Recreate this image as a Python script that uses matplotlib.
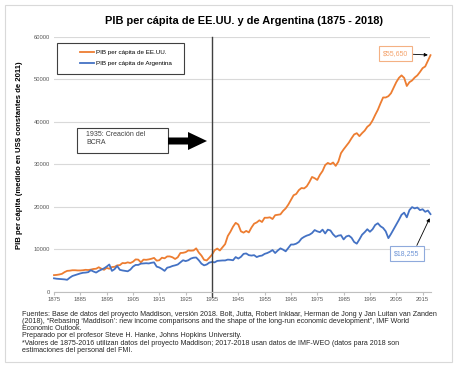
import numpy as np
import matplotlib
matplotlib.use("Agg")
import matplotlib.pyplot as plt
import matplotlib.patches as patches
from matplotlib.transforms import IdentityTransform

plt.rcParams['font.family'] = ['Liberation Sans', 'DejaVu Sans']

years = list(range(1875, 2019))

usa = [3900, 3950, 4050, 4200, 4600, 4900, 4950, 5050, 5050, 5000,
       5000, 5050, 5150, 5100, 5200, 5350, 5400, 5750, 5400, 5150,
       5600, 5400, 5800, 5850, 6200, 6250, 6750, 6700, 6900, 6750,
       7050, 7600, 7550, 6900, 7550, 7500, 7600, 7750, 7950, 7300,
       7400, 8000, 7850, 8300, 8300, 8100, 7700, 8100, 9100, 9150,
       9300, 9700, 9650, 9700, 10200, 9200, 8500, 7500, 7350, 8000,
       8700, 9750, 10150, 9700, 10450, 11200, 13100, 14100, 15300, 16200,
       15800, 14200, 13900, 14300, 13950, 15100, 16000, 16300, 16800, 16400,
       17400, 17400, 17500, 17100, 18000, 18100, 18200, 19000, 19600, 20500,
       21600, 22700, 23000, 23900, 24400, 24300, 24800, 25800, 27000, 26700,
       26300, 27500, 28400, 29800, 30300, 30000, 30400, 29600, 30600, 32600,
       33500, 34300, 35100, 36100, 37000, 37300, 36600, 37300, 37900, 38800,
       39300, 40300, 41600, 42800, 44300, 45700, 45700, 46000, 46700, 48000,
       49300, 50300, 50900, 50300, 48400, 49300, 49700, 50400, 50900, 51700,
       52600, 53000, 54300, 55650]

argentina = [3150, 3050, 3000, 2950, 2900, 2800, 3300, 3700, 3900, 4100,
             4300, 4450, 4500, 4600, 5050, 4750, 4500, 4900, 5200, 5500,
             5900, 6400, 4900, 5300, 6050, 5150, 5000, 4900, 4800, 5200,
             5900, 6300, 6300, 6600, 6650, 6700, 6650, 6800, 6900, 5900,
             5700, 5350, 4900, 5650, 5800, 6050, 6200, 6400, 6900, 7400,
             7200, 7400, 7800, 8000, 8050, 7400, 6600, 6200, 6400, 6850,
             7000, 6900, 7250, 7300, 7350, 7350, 7550, 7500, 7400, 8150,
             7800, 8200, 8900, 9000, 8600, 8500, 8600, 8150, 8400, 8500,
             8900, 9100, 9400, 9800, 9100, 9700, 10200, 9900, 9500, 10300,
             11100, 11100, 11300, 11700, 12500, 12900, 13200, 13400, 13800, 14500,
             14200, 14000, 14600, 13700, 14600, 14400, 13500, 12900, 13200, 13300,
             12300, 13000, 13200, 12700, 11700, 11300, 12300, 13400, 14000, 14700,
             14100, 14700, 15700, 16100, 15400, 15000, 14200, 12600, 13600, 14700,
             15800, 16900, 18100, 18600, 17500, 19200, 19900, 19600, 19800, 19200,
             19400, 18800, 19100, 18255]

x_ticks = list(range(1875, 2016, 10))
y_ticks = [0, 10000, 20000, 30000, 40000, 50000, 60000]

note_lines = [
    'Fuentes: Base de datos del proyecto Maddison, versión 2018. Bolt, Jutta, Robert Inklaar, Herman de Jong y Jan Luitan van Zanden',
    '(2018), “Rebasing ‘Maddison’: new income comparisons and the shape of the long-run economic development”, IMF World',
    'Economic Outlook.',
    'Preparado por el profesor Steve H. Hanke, Johns Hopkins University.',
    '*Valores de 1875-2016 utilizan datos del proyecto Maddison; 2017-2018 usan datos de IMF-WEO (datos para 2018 son',
    'estimaciones del personal del FMI.',
]

orange = '#ED7D31'
blue = '#4472C4'
W, H = 460, 368

fig = plt.figure(figsize=(4.6, 3.68), dpi=100)
ax = fig.add_axes([54 / W, 1 - 291.7 / H, 376.5 / W, 255 / H])

ax.plot(years, usa, color=orange, lw=1.3, label='PIB per cápita de EE.UU.', clip_on=False)
ax.plot(years, argentina, color=blue, lw=1.3, label='PIB per cápita de Argentina', clip_on=False)

ax.set_xlim(1875, 2018)
ax.set_ylim(0, 60000)
ax.set_xticks(x_ticks)
ax.set_yticks(y_ticks)
ax.set_yticklabels([str(v) for v in y_ticks])
ax.grid(axis='y', color='#D9D9D9', lw=0.8)
ax.set_axisbelow(True)
for s in ['top', 'right', 'left']:
    ax.spines[s].set_visible(False)
ax.spines['bottom'].set_color('#BFBFBF')
ax.spines['bottom'].set_linewidth(0.8)
ax.tick_params(axis='y', length=0, labelsize=4.2, labelcolor='#595959', pad=3)
ax.tick_params(axis='x', length=2, color='#BFBFBF', labelsize=4.2, labelcolor='#595959', pad=2)

# 1935 line
ax.axvline(1935, ymin=-0.02, ymax=1, color='#404040', lw=1, clip_on=False)

# legend
ax.legend(loc='center left', bbox_to_anchor=(80 / W, 1 - 57.7 / H),
          bbox_transform=fig.transFigure, frameon=False, fontsize=4.5,
          handlelength=2.3, handletextpad=0.3, labelspacing=0.95,
          borderpad=0, borderaxespad=0)
fig.add_artist(patches.Rectangle((57, H - 74), 127, 31, transform=IdentityTransform(),
                                 fill=False, edgecolor='#404040', lw=0.8))

# BCRA box and arrow
fig.add_artist(patches.Rectangle((77, H - 153), 91, 25, transform=IdentityTransform(),
                                 facecolor='white', edgecolor='#404040', lw=0.8))
fig.text(86 / W, 1 - 131 / H, '1935: Creación del\nBCRA', fontsize=5, color='#404040',
         va='top', ha='left', linespacing=1.15)
fig.add_artist(patches.FancyArrow(168, H - 141, 39, 0, width=7, head_width=18,
                                  head_length=19, length_includes_head=True,
                                  transform=IdentityTransform(), color='black', lw=0))

# value labels
ax.annotate('$55,650', xy=(2017, 55700), xytext=(2004.7, 56050),
            fontsize=5, color='#F4A36C', ha='center', va='center',
            bbox=dict(boxstyle='square,pad=0.6', fc='white', ec='#F4B183', lw=0.8),
            arrowprops=dict(arrowstyle='-|>', color='black', lw=0.6,
                            mutation_scale=5, shrinkA=0, shrinkB=0),
            annotation_clip=False)
ax.annotate('$18,255', xy=(2017.7, 17300), xytext=(2009.1, 8990),
            fontsize=5, color='#6F95D6', ha='center', va='center',
            bbox=dict(boxstyle='square,pad=0.6', fc='white', ec='#8FAADC', lw=0.8),
            arrowprops=dict(arrowstyle='-|>', color='black', lw=0.6,
                            mutation_scale=5, shrinkA=0, shrinkB=0,
                            relpos=(0.8, 1)),
            annotation_clip=False)

fig.text(244 / W, 1 - 20.5 / H, 'PIB per cápita de EE.UU. y de Argentina (1875 - 2018)',
         fontsize=7.9, fontweight='bold', ha='center', va='center')
fig.text(20 / W, 1 - 155 / H, 'PIB per cápita (medido en US$ constantes de 2011)',
         fontsize=5.6, fontweight='bold', rotation=90, ha='center', va='center')

# footnote, one line at a time for even spacing
for i, line in enumerate(note_lines):
    fig.text(22.5 / W, 1 - (313 + 7.3 * i) / H, line, fontsize=5.1, color='#262626',
             ha='left', va='center_baseline')

# outer border
fig.add_artist(patches.Rectangle((5, H - 362), 447, 357, transform=IdentityTransform(),
                                 fill=False, edgecolor='#D9D9D9', lw=0.8))

fig.savefig('out.png', dpi=100)
